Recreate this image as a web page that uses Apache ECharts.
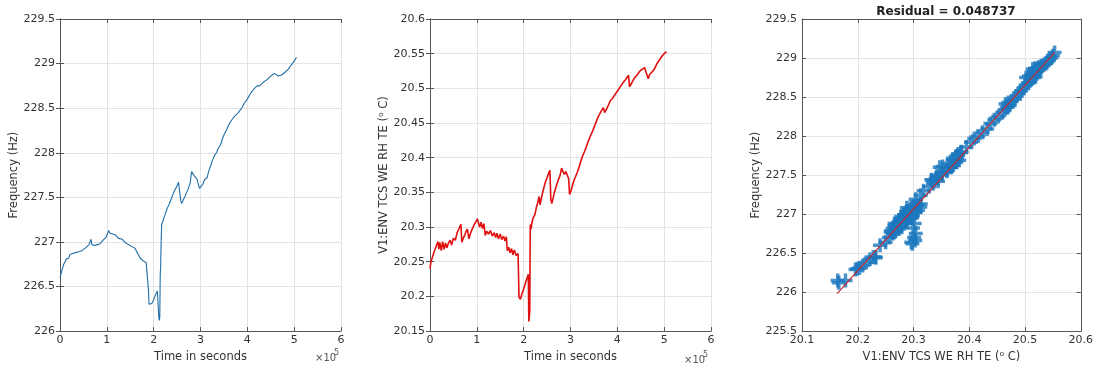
<!DOCTYPE html>
<html>
<head>
<meta charset="utf-8">
<script src="https://cdn.jsdelivr.net/npm/echarts@6/dist/echarts.min.js"></script>
<style>
html, body { margin: 0; padding: 0; background: #fff; }
#main { width: 1096px; height: 368px; }
</style>
</head>
<body>
<div id="main"></div>
<script>
// time axis in units of 1e5 seconds
var timeE5 = [
  0.00, 0.02, 0.05, 0.08, 0.11, 0.14, 0.17, 0.19, 0.21, 0.24, 0.27, 0.30, 0.33, 0.36, 0.40, 0.43, 0.46, 0.50, 0.54, 0.58,
  0.62, 0.66, 0.68, 0.71, 0.74, 0.77, 0.80, 0.83, 0.86, 0.90, 0.94, 0.98, 1.01, 1.04, 1.06, 1.09, 1.12, 1.15, 1.18, 1.21,
  1.25, 1.29, 1.33, 1.37, 1.40, 1.43, 1.46, 1.50, 1.53, 1.57, 1.60, 1.63, 1.65, 1.68, 1.71, 1.74, 1.77, 1.80, 1.84, 1.88,
  1.89, 1.90, 1.93, 1.96, 1.99, 2.02, 2.05, 2.08, 2.10, 2.11, 2.12, 2.13, 2.14, 2.142, 2.145, 2.148, 2.15, 2.152, 2.155, 2.158,
  2.16, 2.165, 2.17, 2.20, 2.24,
  2.27, 2.30, 2.33, 2.35, 2.38, 2.41, 2.44, 2.47, 2.50, 2.53, 2.56, 2.58, 2.60, 2.63, 2.66, 2.70, 2.74, 2.78, 2.81, 2.84,
  2.87, 2.90, 2.93, 2.96, 2.98, 3.01, 3.05, 3.09, 3.14, 3.18, 3.22, 3.26, 3.30, 3.34, 3.38, 3.43, 3.47, 3.51, 3.55, 3.59,
  3.63, 3.67, 3.70, 3.73, 3.77, 3.81, 3.85, 3.89, 3.93, 3.97, 4.01, 4.05, 4.09, 4.13, 4.17, 4.21, 4.24, 4.26, 4.30, 4.34,
  4.38, 4.42, 4.46, 4.50, 4.54, 4.58, 4.62, 4.66, 4.69, 4.72, 4.76, 4.80, 4.84, 4.88, 4.92, 4.96, 5.00, 5.05
];
var freqHz = [
  226.60, 226.64, 226.70, 226.75, 226.78, 226.81, 226.83, 226.82, 226.86, 226.85, 226.87, 226.86, 226.88, 226.87, 226.89, 226.90, 226.90, 226.92, 226.93, 226.95,
  226.97, 227.03, 226.97, 226.99, 226.96, 226.98, 226.97, 226.99, 226.98, 227.01, 227.03, 227.05, 227.09, 227.13, 227.10, 227.12, 227.09, 227.11, 227.08, 227.07,
  227.04, 227.03, 227.03, 227.02, 226.99, 227.01, 226.97, 226.98, 226.95, 226.94, 226.93, 226.91, 226.88, 226.85, 226.82, 226.81, 226.79, 226.78, 226.77, 226.76,
  226.45, 226.30, 226.29, 226.31, 226.34, 226.38, 226.42, 226.45, 226.44, 226.15, 226.12, 226.15, 226.62, 226.66, 226.64, 226.70, 226.75, 226.82, 226.88, 226.95,
  227.02, 227.10, 227.19, 227.24, 227.30,
  227.35, 227.39, 227.42, 227.44, 227.49, 227.53, 227.57, 227.60, 227.63, 227.67, 227.69, 227.46, 227.43, 227.47, 227.50, 227.55, 227.60, 227.66, 227.79, 227.77,
  227.74, 227.75, 227.70, 227.63, 227.60, 227.61, 227.65, 227.70, 227.72, 227.80, 227.86, 227.92, 227.97, 228.00, 228.05, 228.09, 228.16, 228.21, 228.25, 228.30,
  228.34, 228.37, 228.39, 228.41, 228.43, 228.45, 228.47, 228.51, 228.55, 228.58, 228.61, 228.65, 228.68, 228.71, 228.73, 228.75, 228.76, 228.75, 228.77, 228.79,
  228.81, 228.82, 228.84, 228.86, 228.88, 228.89, 228.87, 228.86, 228.86, 228.87, 228.88, 228.90, 228.92, 228.94, 228.97, 229.00, 229.03, 229.07
];
var tempC = [
  20.240, 20.250, 20.256, 20.263, 20.268, 20.274, 20.279, 20.268, 20.278, 20.266, 20.279, 20.268, 20.277, 20.270, 20.278, 20.281, 20.274, 20.284, 20.281, 20.292,
  20.298, 20.304, 20.278, 20.284, 20.288, 20.294, 20.297, 20.283, 20.290, 20.297, 20.303, 20.308, 20.312, 20.313, 20.300, 20.307, 20.298, 20.305, 20.288, 20.294,
  20.290, 20.295, 20.287, 20.292, 20.285, 20.291, 20.283, 20.290, 20.282, 20.287, 20.280, 20.286, 20.266, 20.271, 20.263, 20.269, 20.260, 20.267, 20.259, 20.262,
  20.232, 20.199, 20.196, 20.203, 20.209, 20.215, 20.222, 20.228, 20.232, 20.164, 20.166, 20.178, 20.298, 20.303, 20.296, 20.301, 20.304, 20.299, 20.302, 20.297,
  20.303, 20.300, 20.304, 20.313, 20.318,
  20.328, 20.335, 20.344, 20.332, 20.342, 20.351, 20.359, 20.366, 20.371, 20.377, 20.382, 20.340, 20.334, 20.342, 20.351, 20.360, 20.368, 20.375, 20.385, 20.380,
  20.376, 20.380, 20.375, 20.370, 20.347, 20.352, 20.362, 20.370, 20.378, 20.386, 20.395, 20.403, 20.409, 20.416, 20.424, 20.432, 20.438, 20.445, 20.452, 20.459,
  20.464, 20.469, 20.472, 20.465, 20.470, 20.476, 20.482, 20.485, 20.489, 20.493, 20.497, 20.501, 20.505, 20.509, 20.512, 20.516, 20.519, 20.502, 20.507, 20.512,
  20.516, 20.519, 20.523, 20.526, 20.524, 20.530, 20.528, 20.514, 20.520, 20.518, 20.525, 20.529, 20.535, 20.539, 20.543, 20.547, 20.550, 20.553
];
// linear fit end points (temperature, frequency)
var fitTemp = [20.163, 20.553];
var fitFreq = [225.98, 229.07];
var residualTitle = 'Residual = 0.048737';

var freqName = 'Frequency (Hz)';
var tempName = 'V1:ENV TCS WE RH TE (\u2070 C)';
var timeName = 'Time in seconds';

var FONT = 'DejaVu Sans';
var AX = '#555555';
var GRIDC = '#e3e3e3';

var freqSeries = timeE5.map(function (t, i) { return [t, freqHz[i]]; });
var tempSeries = timeE5.map(function (t, i) { return [t, tempC[i]]; });
var pairSeries = tempC.map(function (c, i) { return [c, freqHz[i]]; });
var fitSeries = fitTemp.map(function (c, i) { return [c, fitFreq[i]]; });

function fmt(d) { return function (v) { return String(+v.toFixed(d)); }; }

function axis(kind, grid, pos, min, max, step, labels, dec, name, gap) {
  var a = {
    type: 'value', gridIndex: grid, position: pos,
    min: min, max: max, interval: step,
    axisLine: { show: true, lineStyle: { color: AX, width: 1 } },
    axisTick: { show: true, inside: true, length: 4, lineStyle: { color: AX } },
    axisLabel: { show: labels, color: '#333', fontSize: 11, fontFamily: FONT, margin: kind == 'x' ? 4 : 5, formatter: fmt(dec) },
    splitLine: { show: labels, lineStyle: { color: GRIDC, width: 1 } }
  };
  if (name) {
    a.name = name;
    a.nameLocation = 'middle';
    a.nameGap = gap;
    a.nameTextStyle = { color: '#333', fontSize: 11.5, fontFamily: FONT };
  }
  return a;
}

var chart = echarts.init(document.getElementById('main'));
var option = {
  animation: false,
  backgroundColor: '#fff',
  title: {
    text: residualTitle, left: 941, top: 1, textAlign: 'center',
    textStyle: { fontSize: 12, fontWeight: 'bold', fontFamily: FONT, color: '#222' }
  },
  grid: [
    { left: 60, right: 755, top: 19, bottom: 34 },
    { left: 430, right: 385, top: 19, bottom: 34 },
    { left: 802, right: 15, top: 19, bottom: 34 }
  ],
  xAxis: [
    axis('x', 0, 'bottom', 0, 6, 1, true, 0, timeName, 17),
    axis('x', 0, 'top', 0, 6, 1, false, 0),
    axis('x', 1, 'bottom', 0, 6, 1, true, 0, timeName, 17),
    axis('x', 1, 'top', 0, 6, 1, false, 0),
    axis('x', 2, 'bottom', 20.1, 20.6, 0.1, true, 1, tempName, 17),
    axis('x', 2, 'top', 20.1, 20.6, 0.1, false, 1)
  ],
  yAxis: [
    axis('y', 0, 'left', 226, 229.5, 0.5, true, 1, freqName, 38),
    axis('y', 0, 'right', 226, 229.5, 0.5, false, 1),
    axis('y', 1, 'left', 20.15, 20.6, 0.05, true, 2, tempName, 40),
    axis('y', 1, 'right', 20.15, 20.6, 0.05, false, 2),
    axis('y', 2, 'left', 225.5, 229.5, 0.5, true, 1, freqName, 38),
    axis('y', 2, 'right', 225.5, 229.5, 0.5, false, 1)
  ],
  graphic: [
    { type: 'text', left: 315, top: 353, style: { text: '\u00d710', fontSize: 10, fontFamily: FONT, fill: '#555' } },
    { type: 'text', left: 334, top: 349, style: { text: '5', fontSize: 8, fontFamily: FONT, fill: '#555' } },
    { type: 'text', left: 684, top: 355, style: { text: '\u00d710', fontSize: 10, fontFamily: FONT, fill: '#555' } },
    { type: 'text', left: 703, top: 351, style: { text: '5', fontSize: 8, fontFamily: FONT, fill: '#555' } }
  ],
  series: [
    {
      type: 'line', xAxisIndex: 0, yAxisIndex: 0, data: freqSeries,
      showSymbol: false, lineStyle: { color: '#1f6fa8', width: 1.1 }
    },
    {
      type: 'line', xAxisIndex: 2, yAxisIndex: 2, data: tempSeries,
      showSymbol: false, lineStyle: { color: '#e01010', width: 1.6 }
    },
    {
      type: 'scatter', xAxisIndex: 4, yAxisIndex: 4, data: pairSeries,
      symbol: 'path://M3,0H5V3H8V5H5V8H3V5H0V3H3Z', symbolSize: 14,
      itemStyle: { color: '#1c78be' }
    },
    {
      type: 'line', xAxisIndex: 4, yAxisIndex: 4, data: fitSeries, z: 5,
      showSymbol: false, lineStyle: { color: '#c0282f', width: 1.2 }
    }
  ]
};
chart.setOption(option);
</script>
</body>
</html>
